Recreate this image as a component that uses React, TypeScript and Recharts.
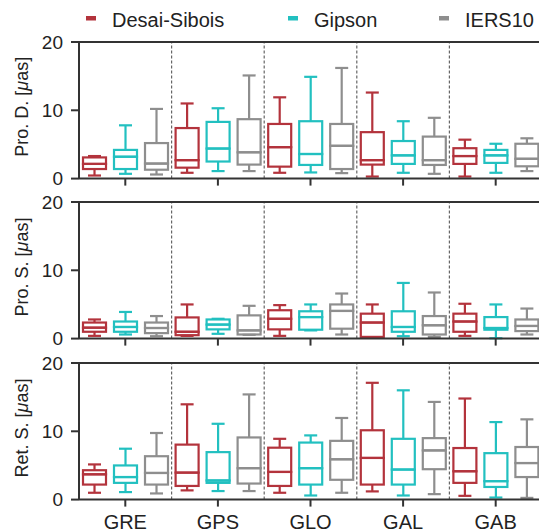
import { ComposedChart, Bar, XAxis, YAxis, ReferenceLine } from "recharts";

// values: [min, q1, median, q3, max] per station group
const categories = ["GRE", "GPS", "GLO", "GAL", "GAB"];
const seriesNames = ["Desai-Sibois", "Gipson", "IERS10"];
const seriesColors = ["#b3333c", "#22c0c0", "#8e8e8e"];
const yTicks = [0, 10, 20];

const proDDesai = [[0.45, 1.4, 2.15, 3.1, 3.3], [0.85, 1.6, 2.7, 7.4, 11.0], [0.85, 1.75, 4.6, 8.0, 11.9], [0.3, 2.05, 2.7, 6.8, 12.6], [0.3, 2.15, 3.3, 4.45, 5.7]];
const proDGipson = [[0.7, 1.4, 3.2, 4.2, 7.8], [1.1, 2.5, 4.4, 8.3, 10.3], [0.9, 2.0, 3.6, 8.4, 14.9], [0.85, 2.15, 3.4, 5.5, 8.4], [0.85, 2.3, 3.4, 4.2, 5.1]];
const proDIers = [[0.6, 1.3, 2.2, 5.2, 10.2], [1.1, 2.05, 3.85, 8.7, 15.1], [0.8, 1.4, 4.8, 8.0, 16.2], [0.7, 2.0, 2.7, 6.15, 8.9], [1.1, 1.8, 2.9, 5.1, 5.9]];

const proSDesai = [[0.4, 1.0, 1.6, 2.35, 2.8], [0.4, 0.5, 1.0, 3.1, 5.0], [0.4, 1.35, 2.9, 4.15, 4.9], [0.2, 0.25, 2.35, 3.65, 5.0], [0.4, 1.0, 2.5, 3.65, 5.1]];
const proSGipson = [[0.6, 1.0, 1.7, 2.5, 3.9], [0.7, 1.35, 2.05, 2.8, 2.9], [1.2, 1.3, 3.15, 4.0, 5.0], [0.35, 1.0, 1.7, 4.0, 8.15], [0.05, 1.3, 1.55, 3.15, 5.0]];
const proSIers = [[0.35, 0.8, 1.55, 2.35, 3.3], [0.55, 0.6, 1.2, 3.4, 4.8], [0.6, 1.45, 4.05, 5.0, 6.6], [0.25, 0.6, 1.95, 3.3, 6.75], [0.6, 1.1, 1.85, 2.8, 4.4]];

const retSDesai = [[1.0, 2.2, 3.7, 4.3, 5.15], [1.35, 2.0, 3.95, 8.05, 13.95], [1.0, 2.0, 4.05, 7.6, 8.9], [1.2, 2.2, 6.1, 10.15, 17.1], [0.55, 2.45, 4.15, 7.55, 14.8]];
const retSGipson = [[1.1, 2.45, 3.3, 5.0, 7.45], [1.25, 2.45, 2.8, 6.95, 11.1], [0.6, 2.2, 4.6, 8.35, 9.4], [0.6, 2.2, 4.4, 8.9, 16.0], [0.3, 1.85, 2.7, 6.8, 11.35]];
const retSIers = [[0.9, 2.2, 3.9, 6.35, 9.75], [1.25, 2.35, 4.6, 9.1, 15.4], [1.0, 2.9, 5.9, 8.6, 11.95], [0.8, 4.45, 7.2, 9.0, 14.3], [0.25, 3.3, 5.35, 7.7, 11.75]];

const panels = [
  { title: "Pro. D.", series: [proDDesai, proDGipson, proDIers], top: 41.5, labels: false },
  { title: "Pro. S.", series: [proSDesai, proSGipson, proSIers], top: 201.7, labels: false },
  { title: "Ret. S.", series: [retSDesai, retSGipson, retSIers], top: 362.7, labels: true },
];

const PLOT_H = 136.6;
const MARGIN_TOP = 20;
const XAXIS_H = 40;
const SW = 2.2;
const AXIS = "#333";

function buildRows(series: number[][][]) {
  return categories.map((name, i) => {
    const row: any = { name };
    series.forEach((s, k) => {
      const [mn, q1, md, q3, mx] = s[i];
      row[`b${k}`] = mn;
      row[`lw${k}`] = q1 - mn;
      row[`lb${k}`] = md - q1;
      row[`hb${k}`] = q3 - md;
      row[`hw${k}`] = mx - q3;
    });
    return row;
  });
}

const whisker = (color: string, capAtBottom: boolean) => (props: any) => {
  const { x, y, width, height } = props;
  const cx = x + width / 2;
  const capY = capAtBottom ? y + height : y;
  return (
    <g>
      <line x1={cx} x2={cx} y1={y} y2={y + height} stroke={color} strokeWidth={SW} />
      <line x1={cx - 6.5} x2={cx + 6.5} y1={capY} y2={capY} stroke={color} strokeWidth={SW} />
    </g>
  );
};

const boxHalf = (color: string) => (props: any) => {
  const { x, y, width, height } = props;
  return <rect x={x} y={y} width={width} height={height} fill="none" stroke={color} strokeWidth={SW} />;
};

const Panel = ({ panel }: { panel: (typeof panels)[number] }) => {
  const rows = buildRows(panel.series);
  return (
    <div style={{ position: "absolute", left: 0, top: panel.top - MARGIN_TOP }}>
      <ComposedChart
        width={560}
        height={MARGIN_TOP + PLOT_H + XAXIS_H}
        data={rows}
        margin={{ top: MARGIN_TOP, right: 18, bottom: 0, left: 0 }}
        barSize={23}
        barGap={8}
      >
        <XAxis
          dataKey="name"
          height={XAXIS_H}
          axisLine={{ stroke: AXIS, strokeWidth: 2 }}
          tickLine={{ stroke: AXIS, strokeWidth: 2 }}
          tickSize={7}
          tickMargin={8}
          interval={0}
          tick={panel.labels ? { fontSize: 20, fill: "#222" } : () => <g />}
        />
        <YAxis
          width={79}
          domain={[0, 20]}
          ticks={yTicks}
          interval={0}
          axisLine={{ stroke: AXIS, strokeWidth: 2 }}
          tickLine={{ stroke: AXIS, strokeWidth: 2 }}
          tickSize={8}
          tickMargin={8}
          tick={{ fontSize: 19, fill: "#222" }}
        />
        {categories.slice(1).map((c) => (
          <ReferenceLine
            key={`sep${c}`}
            x={c}
            position="start"
            stroke="#666"
            strokeWidth={1.2}
            strokeDasharray="3 2"
          />
        ))}
        <ReferenceLine y={20} stroke={AXIS} strokeWidth={2} />
        {seriesColors.map((c, k) => [
          <Bar key={`b${k}`} dataKey={`b${k}`} stackId={`s${k}`} shape={() => <g />} isAnimationActive={false} />,
          <Bar key={`lw${k}`} dataKey={`lw${k}`} stackId={`s${k}`} shape={whisker(c, true)} isAnimationActive={false} />,
          <Bar key={`lb${k}`} dataKey={`lb${k}`} stackId={`s${k}`} shape={boxHalf(c)} isAnimationActive={false} />,
          <Bar key={`hb${k}`} dataKey={`hb${k}`} stackId={`s${k}`} shape={boxHalf(c)} isAnimationActive={false} />,
          <Bar key={`hw${k}`} dataKey={`hw${k}`} stackId={`s${k}`} shape={whisker(c, false)} isAnimationActive={false} />,
        ])}
      </ComposedChart>
    </div>
  );
};

const legendX = [86, 288, 439];

export default function App() {
  return (
    <div
      style={{
        position: "absolute",
        left: 0,
        top: 0,
        width: 539,
        height: 532,
        overflow: "hidden",
        background: "#fff",
        fontFamily: "'Liberation Sans', Arial, sans-serif",
      }}
    >
      {panels.map((p) => (
        <Panel key={p.title} panel={p} />
      ))}
      <svg width={539} height={532} style={{ position: "absolute", left: 0, top: 0, pointerEvents: "none" }}>
        {seriesNames.map((n, k) => (
          <g key={n}>
            <rect x={legendX[k]} y={16} width={10} height={4.5} fill={seriesColors[k]} />
            <text x={legendX[k] + 26} y={27} fontSize={20} fill="#222">
              {n}
            </text>
          </g>
        ))}
        {panels.map((p) => {
          const cx = 22;
          const cy = p.top + PLOT_H / 2 - 3;
          return (
            <text
              key={p.title}
              x={cx}
              y={cy}
              fontSize={18}
              fill="#222"
              textAnchor="middle"
              dominantBaseline="central"
              transform={`rotate(-90, ${cx}, ${cy})`}
            >
              {p.title} [<tspan fontStyle="italic">μ</tspan>as]
            </text>
          );
        })}
      </svg>
    </div>
  );
}
